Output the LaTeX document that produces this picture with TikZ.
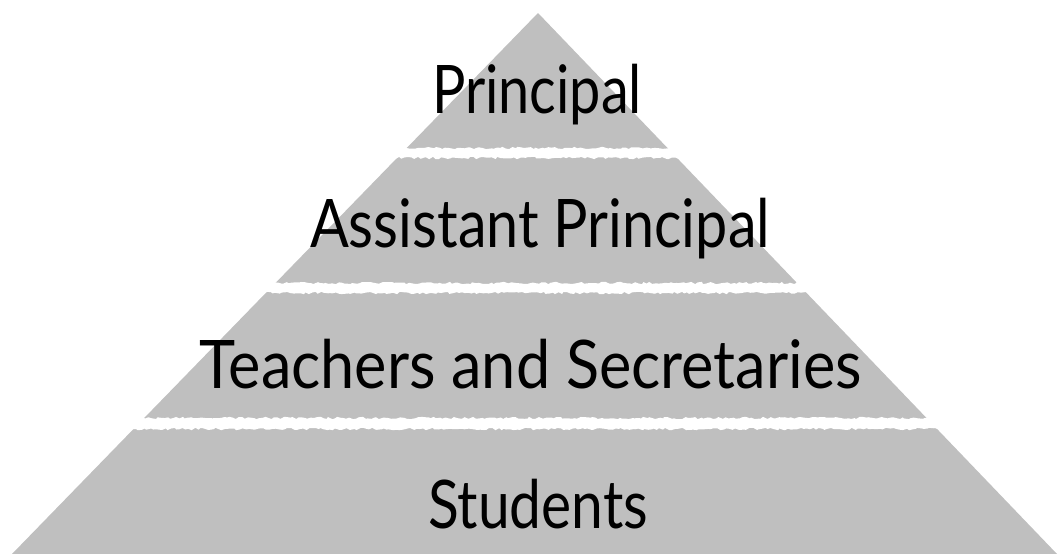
\documentclass[tikz,border=0pt]{standalone}
\usepackage{fontspec}
\setmainfont{Lato}
\usetikzlibrary{decorations.pathmorphing}
\definecolor{pyrgrey}{HTML}{BFBFBF}
\begin{document}
\begin{tikzpicture}[x=1pt,y=-1pt,
  lbl/.style={anchor=base,inner sep=0pt,font=\fontsize{67}{70}\selectfont,text=black},
  gapband/.style={fill=white,draw=none,decorate,decoration={random steps,segment length=3pt,amplitude=1.2pt}}]
\useasboundingbox (0,0) rectangle (1058,554);
\fill[pyrgrey] (538,13) -- (1057,554) -- (12,554) -- cycle;
\pgfmathsetseed{7}
\fill[gapband] (0,148) rectangle (1058,158);
\fill[gapband] (0,283) rectangle (1058,293);
\fill[gapband] (0,418) rectangle (1058,429);
\node[lbl] (principal) at (537,113) {\resizebox{210pt}{\height}{Principal}};
\node[lbl] (assistant) at (540,247) {\resizebox{460pt}{\height}{Assistant Principal}};
\node[lbl] (teachers) at (531,388) {\resizebox{662pt}{\height}{Teachers and Secretaries}};
\node[lbl] (students) at (538,528) {\resizebox{220pt}{\height}{Students}};
\end{tikzpicture}
\end{document}
